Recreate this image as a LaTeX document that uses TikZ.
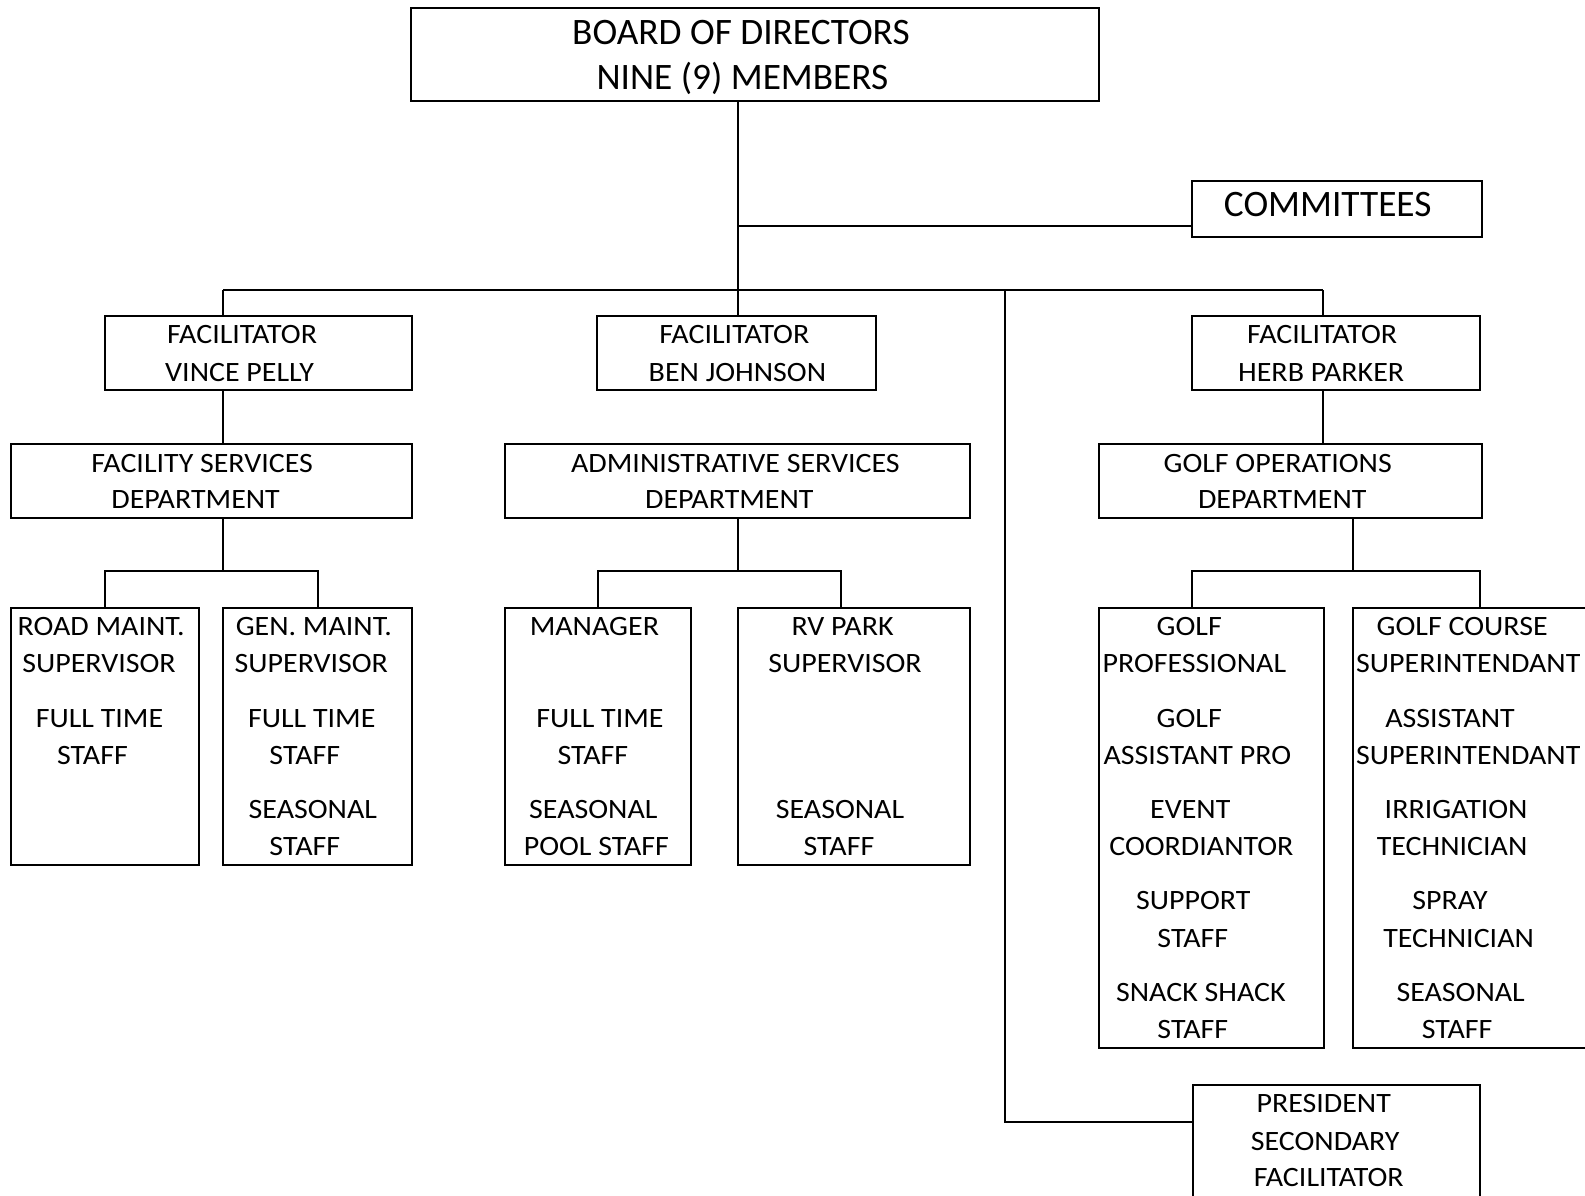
\documentclass[tikz,border=0pt]{standalone}
\usepackage{fontspec}
\setmainfont{Carlito}
\newfontfamily\widefont{Carlito}[FakeStretch=1.07]
\usetikzlibrary{fit}
\newcounter{tlc}
\newcommand\txtline[3]{\stepcounter{tlc}\node[txt] (t\arabic{tlc}) at (#1,#2+9) {#3};}
\newcommand\bigline[3]{\stepcounter{tlc}\node[bigtxt] (t\arabic{tlc}) at (#1,#2+12) {#3};}
\begin{document}
\begin{tikzpicture}[x=0.7582pt,y=-0.7582pt,
  box/.style={draw,line width=1.5pt,inner sep=0pt,outer sep=0pt},
  conn/.style={line width=1.5pt},
  txt/.style={anchor=base,inner sep=0pt,font=\widefont\fontsize{21}{25}\selectfont},
  bigtxt/.style={anchor=base,inner sep=0pt,font=\fontsize{28}{33}\selectfont}]
\fill[white] (0,0) rectangle (1568,1183);
\useasboundingbox (0,0) rectangle (1568,1183);
% boxes
\node[box,fit={(407,8) (1087,100)}] (board) {};
\node[box,fit={(1179,179) (1466,234)}] (comm) {};
\node[box,fit={(104,313) (408,386)}] (vince) {};
\node[box,fit={(591,313) (867,386)}] (ben) {};
\node[box,fit={(1179,313) (1464,386)}] (herb) {};
\node[box,fit={(11,439) (408,512)}] (fac) {};
\node[box,fit={(500,439) (960,512)}] (admin) {};
\node[box,fit={(1087,439) (1466,512)}] (golf) {};
\node[box,fit={(11,601) (197,856)}] (road) {};
\node[box,fit={(221,601) (408,856)}] (gen) {};
\node[box,fit={(500,601) (684,856)}] (manager) {};
\node[box,fit={(730,601) (960,856)}] (rv) {};
\node[box,fit={(1087,601) (1310,1037)}] (pro) {};
\node[box,fit={(1338,601) (1578,1037)}] (course) {};
\node[box,fit={(1180,1073) (1464,1195)}] (pres) {};
% junctions
\coordinate (c0) at (730,287);
\coordinate (cy) at (730,224);
\coordinate (jv) at (221,287);
\coordinate (jh) at (1309,287);
\coordinate (jp) at (994,287);
\coordinate (jpb) at (994,1110);
\coordinate (jf) at (221,565);
\coordinate (ja) at (730,565);
\coordinate (jr) at (832,565);
\coordinate (jg) at (1338,565);
\coordinate (jgl) at (1179,565);
\coordinate (jgr) at (1464,565);
% connectors
\draw[conn] (c0 |- board.south) -- (c0 |- ben.north);
\draw[conn] (cy) -- (cy -| comm.west);
\draw[conn] (jv) -- (jh);
\draw[conn] (jv) -- (jv |- vince.north);
\draw[conn] (jh) -- (jh |- herb.north);
\draw[conn] (jv |- vince.south) -- (jv |- fac.north);
\draw[conn] (jh |- herb.south) -- (jh |- golf.north);
\draw[conn] (jf |- fac.south) -- (jf);
\draw[conn] (road.north) |- (jf) -| (gen.north);
\draw[conn] (ja |- admin.south) -- (ja);
\draw[conn] (manager.north) |- (jr) -- (jr |- rv.north);
\draw[conn] (jg |- golf.south) -- (jg);
\draw[conn] (jgl |- pro.north) -- (jgl) -- (jgr) -- (jgr |- course.north);
\draw[conn] (jp) -- (jpb) -- (jpb -| pres.west);
% texts
\bigline{733}{32}{BOARD OF DIRECTORS}
\bigline{734.5}{77}{NINE (9) MEMBERS}
\bigline{1313.5}{202}{COMMITTEES}
\txtline{239.5}{331}{FACILITATOR}
\txtline{237}{368}{VINCE PELLY}
\txtline{726.5}{331}{FACILITATOR}
\txtline{729.5}{368}{BEN JOHNSON}
\txtline{1308}{331}{FACILITATOR}
\txtline{1307}{368}{HERB PARKER}
\txtline{200}{458}{FACILITY SERVICES}
\txtline{193.5}{494}{DEPARTMENT}
\txtline{727.5}{458}{ADMINISTRATIVE SERVICES}
\txtline{721.5}{494}{DEPARTMENT}
\txtline{1264}{458}{GOLF OPERATIONS}
\txtline{1268.5}{494}{DEPARTMENT}
\txtline{100}{620}{ROAD MAINT.}
\txtline{98}{656}{SUPERVISOR}
\txtline{98.5}{711}{FULL TIME}
\txtline{91.5}{747}{STAFF}
\txtline{310.5}{620}{GEN. MAINT.}
\txtline{308}{656}{SUPERVISOR}
\txtline{308.5}{711}{FULL TIME}
\txtline{301.5}{747}{STAFF}
\txtline{309.5}{801}{SEASONAL}
\txtline{301.5}{837}{STAFF}
\txtline{588}{620}{MANAGER}
\txtline{593.5}{711}{FULL TIME}
\txtline{586.5}{747}{STAFF}
\txtline{587}{801}{SEASONAL}
\txtline{590}{837}{POOL STAFF}
\txtline{833.5}{620}{RV PARK}
\txtline{836}{656}{SUPERVISOR}
\txtline{831}{801}{SEASONAL}
\txtline{830}{837}{STAFF}
\txtline{1176.5}{620}{GOLF}
\txtline{1181.5}{656}{PROFESSIONAL}
\txtline{1176.5}{711}{GOLF}
\txtline{1184.5}{747}{ASSISTANT PRO}
\txtline{1177.5}{801}{EVENT}
\txtline{1188.5}{837}{COORDIANTOR}
\txtline{1180.5}{891}{SUPPORT}
\txtline{1180}{928}{STAFF}
\txtline{1188}{982}{SNACK SHACK}
\txtline{1180}{1018}{STAFF}
\txtline{1446.5}{620}{GOLF COURSE}
\txtline{1452.5}{656}{SUPERINTENDANT}
\txtline{1434.5}{711}{ASSISTANT}
\txtline{1452.5}{747}{SUPERINTENDANT}
\txtline{1440.5}{801}{IRRIGATION}
\txtline{1436.5}{837}{TECHNICIAN}
\txtline{1434.5}{891}{SPRAY}
\txtline{1443}{928}{TECHNICIAN}
\txtline{1445}{982}{SEASONAL}
\txtline{1441.5}{1018}{STAFF}
\txtline{1309.5}{1092}{PRESIDENT}
\txtline{1311}{1129}{SECONDARY}
\txtline{1314.5}{1165}{FACILITATOR}
\end{tikzpicture}
\end{document}
